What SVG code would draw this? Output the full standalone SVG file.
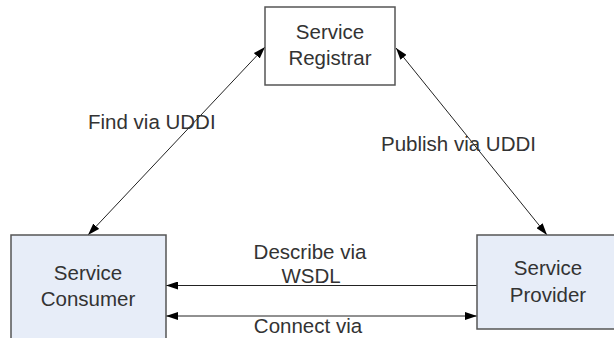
<svg xmlns="http://www.w3.org/2000/svg" width="614" height="338" viewBox="0 0 614 338">
<style>
.box{stroke:#555;stroke-width:1.5}
.blue{fill:#e7edf8}
.white{fill:#fff}
text{font-family:"Liberation Sans",Arial,sans-serif;font-size:20.5px;fill:#333}
.c{text-anchor:middle}
.ln{stroke:#222;stroke-width:1;fill:none}
</style>
<defs>
<marker id="ah" viewBox="0 0 12 8" refX="12" refY="4" markerWidth="12" markerHeight="8" markerUnits="userSpaceOnUse" orient="auto-start-reverse">
<path d="M0,0 L12,4 L0,8 Z" fill="#000"/>
</marker>
</defs>
<rect width="614" height="338" fill="#fff"/>
<g id="connectors">
<line class="ln" x1="265" y1="47" x2="88" y2="235" marker-start="url(#ah)" marker-end="url(#ah)"/>
<line class="ln" x1="396" y1="48" x2="547" y2="235" marker-start="url(#ah)" marker-end="url(#ah)"/>
<line class="ln" x1="477" y1="285.5" x2="166" y2="285.5" marker-end="url(#ah)"/>
<line class="ln" x1="166" y1="316" x2="477" y2="316" marker-start="url(#ah)" marker-end="url(#ah)"/>
<text x="88" y="129">Find via UDDI</text>
<text x="381" y="151">Publish via UDDI</text>
<text class="c" x="310" y="259">Describe via</text>
<text class="c" x="311" y="283">WSDL</text>
<text class="c" x="308" y="333">Connect via</text>
</g>
<g id="registrar">
<rect class="box white" x="265" y="7" width="130" height="78"/>
<text class="c" x="330" y="39">Service</text>
<text class="c" x="330" y="65">Registrar</text>
</g>
<g id="consumer">
<rect class="box blue" x="11" y="235" width="155" height="110"/>
<text class="c" x="88" y="280">Service</text>
<text class="c" x="88" y="306">Consumer</text>
</g>
<g id="provider">
<rect class="box blue" x="477" y="235" width="150" height="94"/>
<text class="c" x="548" y="275">Service</text>
<text class="c" x="548" y="302">Provider</text>
</g>
</svg>
